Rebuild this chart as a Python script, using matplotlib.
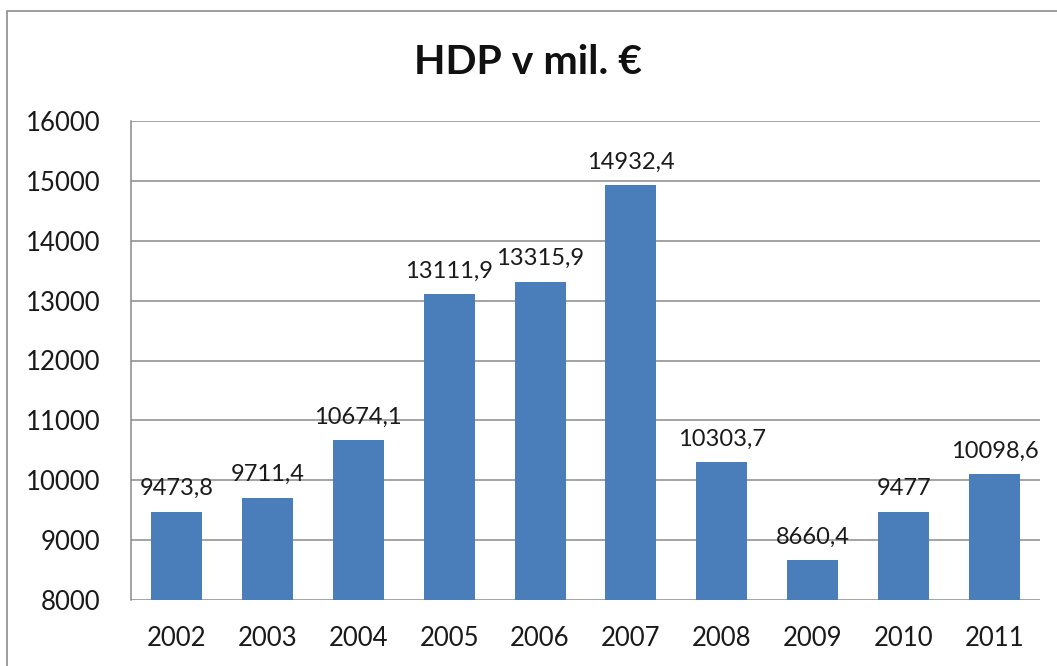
import matplotlib
matplotlib.use("Agg")
import matplotlib.pyplot as plt
from matplotlib.patches import Rectangle

years = ["2002", "2003", "2004", "2005", "2006", "2007", "2008", "2009", "2010", "2011"]
hdp = [9473.8, 9711.4, 10674.1, 13111.9, 13315.9, 14932.4, 10303.7, 8660.4, 9477, 10098.6]
y_ticks = [8000, 9000, 10000, 11000, 12000, 13000, 14000, 15000, 16000]

plt.rcParams["font.family"] = ["Lato", "DejaVu Sans"]

fig = plt.figure(figsize=(10.57, 6.66), dpi=100)
fig.patch.set_facecolor("white")

# outer chart frame
fig.patches.append(Rectangle((7 / 1057, -0.05), 1.2, 1 - 11 / 666 + 0.05,
                             transform=fig.transFigure, fill=False,
                             edgecolor="#8c8c8c", linewidth=1.2, zorder=0))

ax = fig.add_axes([131 / 1057, 1 - 600 / 666, (1040 - 131) / 1057, (600 - 121) / 666])
x = range(len(years))
bars = ax.bar(x, hdp, width=0.56, color="#4a7ebb", zorder=3)

ax.set_ylim(8000, 16000)
ax.set_xlim(-0.5, len(years) - 0.5)
ax.set_yticks(y_ticks)
ax.set_yticklabels([str(t) for t in y_ticks])
ax.set_xticks(list(x))
ax.set_xticklabels(years)
ax.yaxis.grid(True, color="#8a8a8a", linewidth=1.1, zorder=0)
ax.set_axisbelow(True)
for side in ("top", "right", "bottom"):
    ax.spines[side].set_visible(False)
ax.spines["left"].set_color("#8a8a8a")
ax.spines["left"].set_linewidth(1.1)
ax.tick_params(axis="y", length=0, pad=22, labelsize=18.5, labelcolor="#1a1a1a")
ax.tick_params(axis="x", length=0, pad=19, labelsize=18.5, labelcolor="#1a1a1a")

for xi, v in zip(x, hdp):
    ax.annotate(f"{v:g}".replace(".", ","), (xi, v), xytext=(0, 9),
                textcoords="offset points", ha="center", va="bottom",
                fontsize=17, color="#1a1a1a", annotation_clip=False)

fig.text(0.5, 1 - 63 / 666, "HDP v mil. €", ha="center", va="center",
         fontsize=29.5, fontweight="bold", color="#111111")

fig.savefig("out.png", dpi=100)
